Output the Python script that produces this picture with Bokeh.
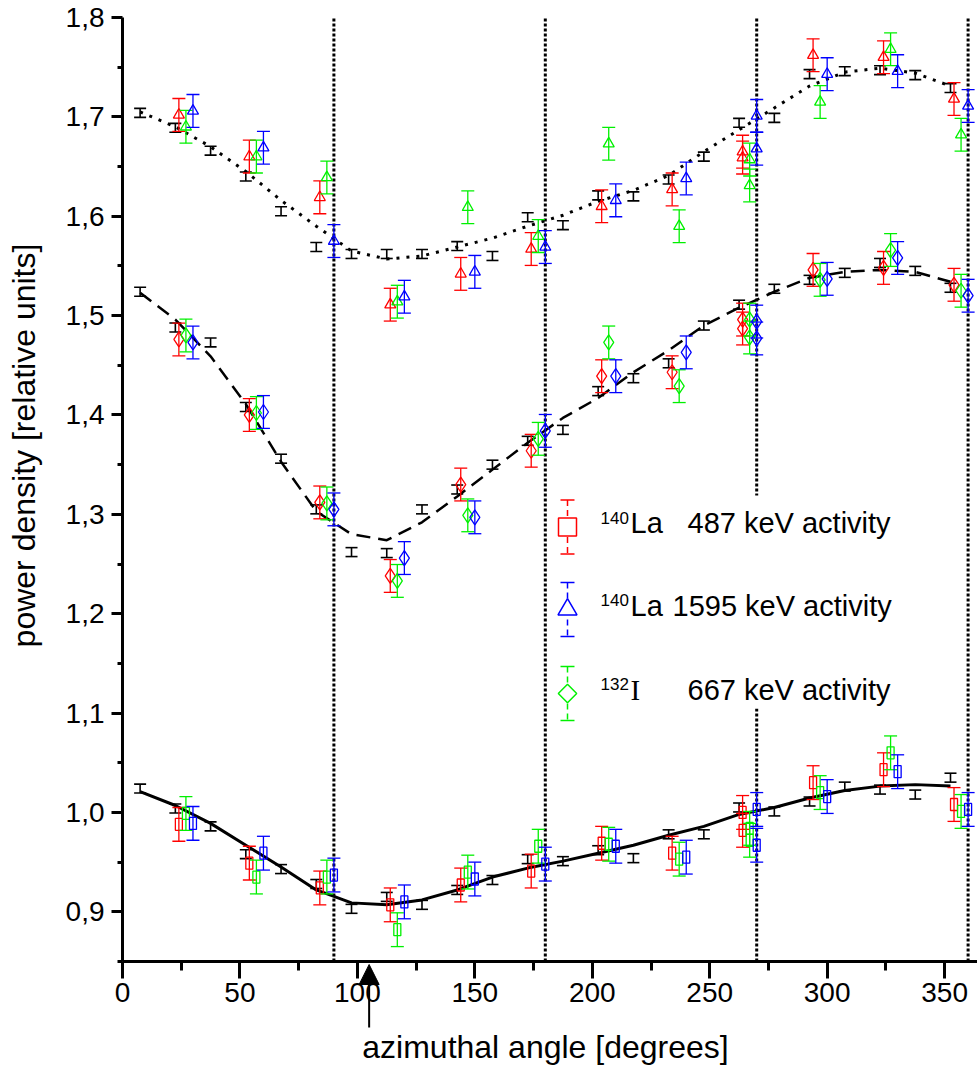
import math
from bokeh.plotting import figure
from bokeh.models import (Range1d, FixedTicker, CustomJSTickFormatter, Label, Arrow, NormalHead)
from bokeh.embed import file_html
from bokeh.resources import INLINE

# ---------------- data ----------------
BLACK_X = [7.5, 22.5, 37.5, 52.5, 67.5, 82.5, 97.5, 112.5, 127.5, 142.5, 157.5, 172.5,
           187.5, 202.5, 217.5, 232.5, 247.5, 262.5, 277.5, 292.5, 307.5, 322.5, 337.5, 352.5]
TOP_BLACK = [1.704, 1.689, 1.666, 1.640, 1.605, 1.569, 1.562, 1.562, 1.562, 1.570, 1.560, 1.599,
             1.591, 1.621, 1.620, 1.637, 1.660, 1.694, 1.699, 1.743, 1.746, 1.747, 1.742, 1.729]
MID_BLACK = [1.524, 1.488, 1.473, 1.408, 1.356, 1.305, 1.262, 1.261, 1.305, 1.325, 1.350, 1.374,
             1.385, 1.424, 1.437, 1.452, 1.490, 1.511, 1.527, 1.536, 1.543, 1.553, 1.545, 1.528]
BOT_BLACK = [1.024, 1.004, 0.986, 0.958, 0.943, 0.928, 0.903, 0.915, 0.907, 0.922, 0.932, 0.953,
             0.951, 0.962, 0.954, 0.978, 0.978, 1.005, 1.001, 1.011, 1.026, 1.023, 1.018, 1.035]
BLACK_ERR = 0.0045

RED_X = [24, 54, 84, 114, 144, 174, 204, 234, 264, 264, 294, 324, 354]
GREEN_X = [27, 57, 87, 117, 147, 177, 207, 237, 267, 267, 297, 327, 357]
BLUE_X = [30, 60, 90, 120, 150, 180, 210, 240, 270, 270, 300, 330, 360]

TOP_RED = [1.702, 1.660, 1.619, 1.511, 1.542, 1.567, 1.610, 1.627, 1.665, 1.659, 1.762, 1.760, 1.718]
TOP_GREEN = [1.690, 1.660, 1.639, 1.514, 1.609, 1.580, 1.673, 1.590, 1.657, 1.631, 1.715, 1.768, 1.682]
TOP_BLUE = [1.706, 1.669, 1.575, 1.519, 1.544, 1.569, 1.616, 1.638, 1.701, 1.668, 1.743, 1.746, 1.711]

MID_RED = [1.476, 1.400, 1.312, 1.238, 1.330, 1.364, 1.439, 1.443, 1.496, 1.487, 1.546, 1.548, 1.531]
MID_GREEN = [1.480, 1.402, 1.311, 1.233, 1.299, 1.376, 1.473, 1.429, 1.496, 1.478, 1.536, 1.566, 1.525]
MID_BLUE = [1.473, 1.403, 1.305, 1.256, 1.297, 1.384, 1.439, 1.463, 1.494, 1.477, 1.537, 1.558, 1.520]

BOT_RED = [0.988, 0.949, 0.924, 0.907, 0.927, 0.941, 0.969, 0.959, 1.000, 0.982, 1.030, 1.043, 1.008]
BOT_GREEN = [0.999, 0.935, 0.935, 0.882, 0.940, 0.966, 0.968, 0.953, 0.984, 0.972, 1.020, 1.060, 1.001]
BOT_BLUE = [0.989, 0.959, 0.937, 0.910, 0.933, 0.948, 0.966, 0.955, 1.003, 0.967, 1.016, 1.041, 1.003]

TOP_ERR = 0.0165
MID_ERR = 0.0165
BOT_ERR = 0.017

FIT_X = BLACK_X
TOP_FIT = [1.705, 1.690, 1.670, 1.645, 1.616, 1.590, 1.565, 1.557, 1.560, 1.569, 1.578, 1.590,
           1.601, 1.615, 1.626, 1.641, 1.665, 1.687, 1.709, 1.731, 1.745, 1.749, 1.744, 1.731]
MID_FIT = [1.523, 1.496, 1.459, 1.411, 1.353, 1.303, 1.280, 1.274, 1.292, 1.318, 1.345, 1.372,
           1.397, 1.417, 1.443, 1.465, 1.490, 1.508, 1.524, 1.538, 1.544, 1.546, 1.544, 1.534]
BOT_FIT = [1.021, 1.007, 0.989, 0.967, 0.945, 0.922, 0.909, 0.907, 0.912, 0.922, 0.935, 0.944,
           0.951, 0.959, 0.967, 0.977, 0.986, 0.998, 1.005, 1.0145, 1.022, 1.0265, 1.028, 1.0265]

QUADRANT_LINES = [90, 180, 270, 360]
ARROW_ANGLE = 105

X_TICKS = [0, 50, 100, 150, 200, 250, 300, 350]
X_MINOR = [25, 75, 125, 175, 225, 275, 325]
Y_TICKS = [0.9, 1.0, 1.1, 1.2, 1.3, 1.4, 1.5, 1.6, 1.7, 1.8]
Y_MINOR = [0.85, 0.95, 1.05, 1.15, 1.25, 1.35, 1.45, 1.55, 1.65, 1.75]

X_TITLE = "azimuthal angle [degrees]"
Y_TITLE = "power density [relative units]"
LEGEND_LABELS = [("140", "La", "487 keV activity"),
                 ("140", "La", "1595 keV activity"),
                 ("132", "I", "667 keV activity")]

# ---------------- layout ----------------
AX0, AX1, AY0, AY1 = 0, 364, 0.85, 1.8      # axis extents
FL, FR, FT, FB = 122, 977, 17, 961           # pixel positions of those extents
W, H = 977, 1068
BASE_SHIFT = 0.37                            # rendered baseline sits this many em lower

def dx(px):
    return AX0 + (px - FL) * (AX1 - AX0) / (FR - FL)

def dy(py):
    return AY0 + (FB - py) * (AY1 - AY0) / (FB - FT)

RED, GREEN, BLUE = "#ff0000", "#00f000", "#0000ff"
SANS = "Liberation Sans"

# the frame covers the whole canvas so that the arrow below the axis is not clipped
p = figure(width=W, height=H, output_backend="svg", toolbar_location=None,
           x_range=Range1d(dx(0), dx(W)), y_range=Range1d(dy(H), dy(0)),
           min_border=0)
p.outline_line_color = None
p.grid.visible = False

p.xaxis.fixed_location = AY0
p.yaxis.fixed_location = AX0
p.xaxis.bounds = (AX0, AX1)
p.yaxis.bounds = (AY0, AY1)
p.xaxis.ticker = FixedTicker(ticks=X_TICKS, minor_ticks=X_MINOR)
p.yaxis.ticker = FixedTicker(ticks=Y_TICKS, minor_ticks=Y_MINOR)
p.yaxis.formatter = CustomJSTickFormatter(code="return tick.toFixed(1).replace('.', ',');")
for ax in (p.xaxis[0], p.yaxis[0]):
    ax.axis_line_width = 3
    ax.axis_line_color = "black"
    ax.major_tick_line_width = 3
    ax.minor_tick_line_width = 3
    ax.major_tick_line_color = "black"
    ax.minor_tick_line_color = "black"
    ax.major_tick_in = 0
    ax.minor_tick_in = 0
    ax.major_label_text_font = SANS
    ax.major_label_text_font_size = "28px"
    ax.major_label_text_color = "black"
p.xaxis.major_tick_out = 17
p.xaxis.minor_tick_out = 9
p.yaxis.major_tick_out = 11
p.yaxis.minor_tick_out = 5
p.xaxis.major_label_standoff = 4
p.yaxis.major_label_standoff = 7


def text(px, py, s, size, font=SANS, align="left", angle=0.0):
    shift = BASE_SHIFT * size
    if angle:
        x, y = dx(px - shift), dy(py)
    else:
        x, y = dx(px), dy(py - shift)
    p.add_layout(Label(x=x, y=y, text=s, text_font=font, text_font_size=f"{size}px",
                       text_color="black", text_align=align, text_baseline="alphabetic",
                       angle=angle))


# axis titles (pixel positions are of the text baseline)
text(545, 1058, X_TITLE, 32, align="center")
text(35, 445, Y_TITLE, 32, align="center", angle=math.pi / 2)

# quadrant lines
p.segment(x0=QUADRANT_LINES, y0=AY0, x1=QUADRANT_LINES, y1=AY1,
          line_color="black", line_width=3, line_dash="3 2")

# legend background (hides the dotted line behind the legend)
p.quad(left=dx(552), right=dx(900), top=dy(495), bottom=dy(708),
       fill_color="white", line_color=None)

# fits
p.line(FIT_X, TOP_FIT, line_color="black", line_width=3, line_dash="3 7")
p.line(FIT_X, MID_FIT, line_color="black", line_width=2.5, line_dash="14 8")
p.line(FIT_X, BOT_FIT, line_color="black", line_width=3)


def errorbars(xs, ys, err, color, cap, lw=1.3):
    lo = [y - err for y in ys]
    hi = [y + err for y in ys]
    p.segment(x0=xs, y0=lo, x1=xs, y1=hi, line_color=color, line_width=lw)
    p.scatter(xs, lo, marker="dash", size=cap, line_color=color, line_width=lw)
    p.scatter(xs, hi, marker="dash", size=cap, line_color=color, line_width=lw)


for ys in (TOP_BLACK, MID_BLACK, BOT_BLACK):
    errorbars(BLACK_X, ys, BLACK_ERR, "black", 12, 1.6)

groups = [
    (TOP_RED, TOP_GREEN, TOP_BLUE, TOP_ERR, "triangle"),
    (MID_RED, MID_GREEN, MID_BLUE, MID_ERR, "diamond"),
    (BOT_RED, BOT_GREEN, BOT_BLUE, BOT_ERR, "rect"),
]
for r_vals, g_vals, b_vals, err, mk in groups:
    for xs, ys, col in ((RED_X, r_vals, RED), (GREEN_X, g_vals, GREEN), (BLUE_X, b_vals, BLUE)):
        errorbars(xs, ys, err, col, 13)
        if mk == "rect":
            p.rect(xs, ys, width=7, height=12, width_units="screen", height_units="screen",
                   fill_color=None, line_color=col, line_width=1.3)
        elif mk == "triangle":
            p.scatter(xs, ys, marker="triangle", size=11, fill_color=None,
                      line_color=col, line_width=1.3)
        else:
            p.scatter(xs, ys, marker="diamond", size=15, fill_color=None,
                      line_color=col, line_width=1.3)

# legend
LEG_GX = 567
LEG_ROWS = [526.5, 609, 693]
LEG_COLORS = [RED, BLUE, GREEN]
LEG_MARKERS = ["square", "triangle", "square"]
LEG_ANGLES = [0, 0, math.pi / 4]
LEG_SIZES = [18, 19, 13]
for (sup, elem, rest), row, col, mk, ang, sz in zip(LEGEND_LABELS, LEG_ROWS, LEG_COLORS,
                                                     LEG_MARKERS, LEG_ANGLES, LEG_SIZES):
    gx = dx(LEG_GX)
    top, bot = dy(row - 27), dy(row + 27)
    in_top, in_bot = dy(row - 10), dy(row + 10)
    p.segment(x0=[gx, gx], y0=[top, in_bot], x1=[gx, gx], y1=[in_top, bot],
              line_color=col, line_width=1.5, line_dash="6 4")
    p.scatter([gx, gx], [top, bot], marker="dash", size=14, line_color=col, line_width=1.5)
    p.scatter([gx], [dy(row)], marker=mk, size=sz, angle=ang, fill_color=None,
              line_color=col, line_width=1.5)
    base = row + 7
    text(600, base - 10, sup, 17)
    text(630, base, elem, 29, font="Liberation Serif" if elem == "I" else SANS)
    text(672 if rest.startswith("1595") else 687, base, rest, 29)

# arrow under the axis
p.add_layout(Arrow(x_start=ARROW_ANGLE, y_start=dy(1027), x_end=ARROW_ANGLE, y_end=dy(964),
                   line_width=2, line_color="black",
                   end=NormalHead(size=20, fill_color="black", line_color="black")))

open("out.html", "w").write(file_html(p, INLINE))
